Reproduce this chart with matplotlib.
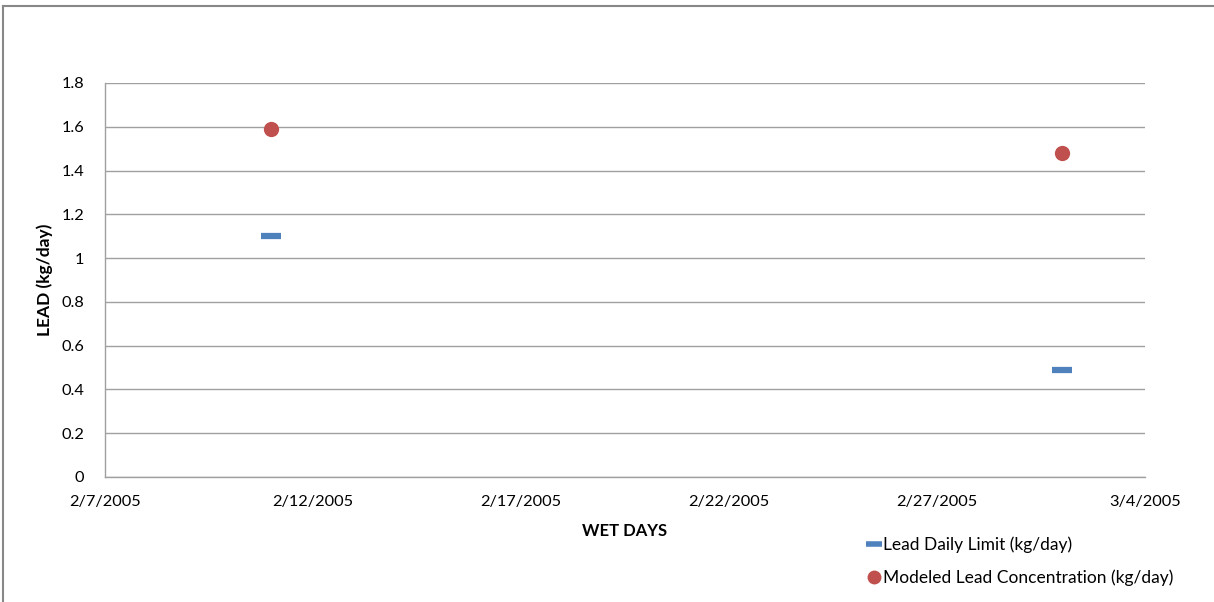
import matplotlib
matplotlib.use("Agg")
import matplotlib.pyplot as plt
from matplotlib.lines import Line2D
from datetime import datetime

dates = ["2005-02-11", "2005-03-02"]
limit_values = [1.10, 0.49]
modeled_values = [1.59, 1.48]
x_ticks = ["2005-02-07", "2005-02-12", "2005-02-17", "2005-02-22", "2005-02-27", "2005-03-04"]
y_ticks = [0, 0.2, 0.4, 0.6, 0.8, 1, 1.2, 1.4, 1.6, 1.8]
y_tick_labels = ["0", "0.2", "0.4", "0.6", "0.8", "1", "1.2", "1.4", "1.6", "1.8"]
series_names = ["Lead Daily Limit (kg/day)", "Modeled Lead Concentration (kg/day)"]

plt.rcParams['font.family'] = ['Lato', 'DejaVu Sans']

W, H = 1214, 602
fig = plt.figure(figsize=(W / 100, H / 100), dpi=100)
ax = fig.add_axes([105 / W, 1 - 477 / H, (1145 - 105) / W, (477 - 83) / H])

xd = [datetime.strptime(d, "%Y-%m-%d") for d in dates]
xt = [datetime.strptime(d, "%Y-%m-%d") for d in x_ticks]

blue = "#4F81BD"
red = "#C0504D"

ax.plot(xd, limit_values, linestyle="none", marker="_", markersize=15,
        markeredgewidth=4.5, color=blue, zorder=3)
ax.plot(xd, modeled_values, linestyle="none", marker="o", markersize=11,
        color=red, markeredgewidth=0, zorder=3)

ax.set_xlim(xt[0], xt[-1])
ax.set_ylim(0, 1.8)
ax.set_xticks(xt)
ax.set_xticklabels([f"{d.month}/{d.day}/{d.year}" for d in xt], fontsize=11.8)
ax.set_yticks(y_ticks)
ax.set_yticklabels(y_tick_labels, fontsize=11.8)
ax.tick_params(length=0, pad=13, axis="x", colors="black")
ax.tick_params(length=0, pad=15, axis="y", colors="black")

ax.grid(axis="y", color="#A0A0A0", linewidth=1)
ax.set_axisbelow(True)
for s in ["top", "right"]:
    ax.spines[s].set_visible(False)
for s in ["left", "bottom"]:
    ax.spines[s].set_color("#A0A0A0")
    ax.spines[s].set_linewidth(1)

ax.set_xlabel("WET DAYS", fontsize=12, fontweight="bold", labelpad=10)
ax.set_ylabel("LEAD (kg/day)", fontsize=12.5, fontweight="bold", labelpad=6)

handles = [
    Line2D([], [], linestyle="none", marker="_", markersize=11, markeredgewidth=4, color=blue),
    Line2D([], [], linestyle="none", marker="o", markersize=10, markeredgewidth=0, color=red),
]
fig.legend(handles, series_names, loc="center left",
           bbox_to_anchor=(860 / W, 1 - 561 / H), frameon=False, fontsize=12.5,
           handlelength=0.6, handletextpad=0.25, labelspacing=0.95, borderpad=0)

# outer chart frame
fig.add_artist(Line2D([2.5 / W, 1.0], [1 - 6 / H, 1 - 6 / H], transform=fig.transFigure,
                      color="#888888", linewidth=1.5))
fig.add_artist(Line2D([2.5 / W, 2.5 / W], [0, 1 - 6 / H], transform=fig.transFigure,
                      color="#888888", linewidth=1.5))

fig.savefig("out.png", dpi=100)
